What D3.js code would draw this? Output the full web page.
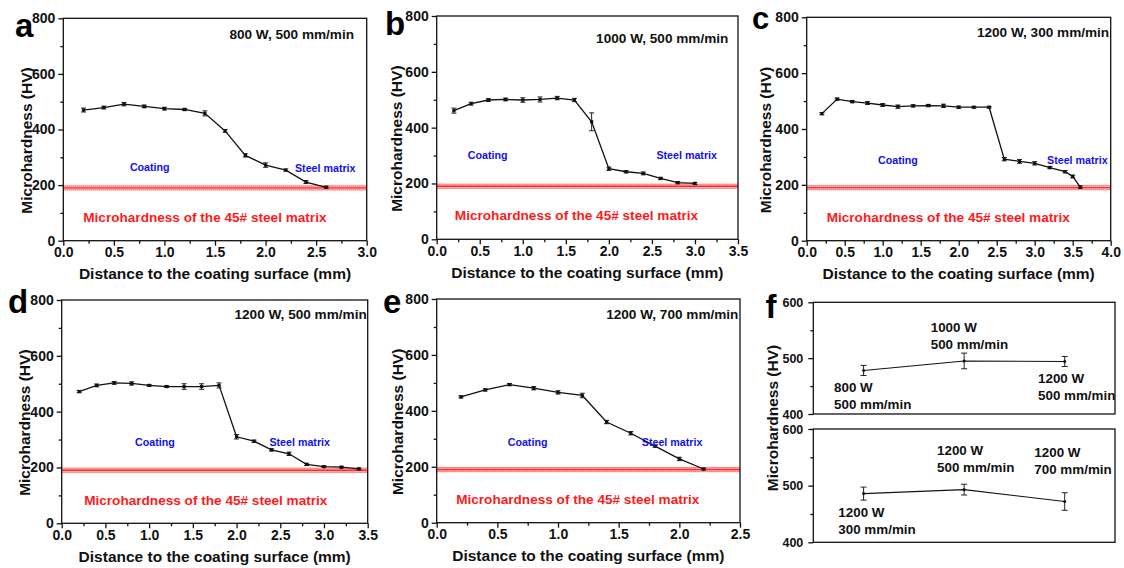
<!DOCTYPE html>
<html>
<head>
<meta charset="utf-8">
<script src="https://cdn.jsdelivr.net/npm/d3@7"></script>
<style>
  html, body { margin: 0; padding: 0; background: #fff; }
  svg { display: block; font-family: "Liberation Sans", Arial, Helvetica, sans-serif; font-weight: bold; }
</style>
</head>
<body>
<svg id="fig" width="1124" height="568"></svg>
<script>
// ---- Hardness depth profiles (distance in mm, hardness in HV, error = half bar) ----
const depthA = [0.2, 0.4, 0.6, 0.8, 1.0, 1.2, 1.4, 1.6, 1.8, 2.0, 2.2, 2.4, 2.6];
const hvA    = [470, 479, 491, 483, 475, 472, 458, 395, 307, 272, 254, 211, 192];
const errA   = [7, 5, 6, 5, 5, 4, 9, 5, 6, 8, 4, 5, 4];

const depthB = [0.2, 0.4, 0.6, 0.8, 1.0, 1.2, 1.4, 1.6, 1.8, 2.0, 2.2, 2.4, 2.6, 2.8, 3.0];
const hvB    = [461, 486, 499, 501, 499, 501, 506, 499, 421, 253, 242, 236, 218, 203, 200];
const errB   = [9, 5, 5, 5, 8, 9, 6, 6, 32, 6, 4, 5, 4, 4, 4];

const depthC = [0.2, 0.4, 0.6, 0.8, 1.0, 1.2, 1.4, 1.6, 1.8, 2.0, 2.2, 2.4, 2.6, 2.8, 3.0, 3.2, 3.4, 3.5, 3.6];
const hvC    = [455, 507, 498, 493, 486, 480, 483, 484, 483, 478, 478, 478, 292, 284, 277, 262, 247, 230, 192];
const errC   = [4, 4, 4, 5, 5, 6, 4, 4, 6, 4, 3, 3, 6, 7, 6, 4, 4, 5, 4];

const depthD = [0.2, 0.4, 0.6, 0.8, 1.0, 1.2, 1.4, 1.6, 1.8, 2.0, 2.2, 2.4, 2.6, 2.8, 3.0, 3.2, 3.4];
const hvD    = [472, 494, 503, 501, 494, 490, 490, 490, 494, 310, 294, 263, 249, 211, 203, 201, 195];
const errD   = [4, 5, 5, 6, 3, 3, 10, 10, 9, 8, 4, 4, 6, 4, 3, 3, 3];

const depthE = [0.2, 0.4, 0.6, 0.8, 1.0, 1.2, 1.4, 1.6, 1.8, 2.0, 2.2];
const hvE    = [450, 475, 494, 481, 466, 455, 360, 320, 274, 228, 192];
const errE   = [4, 4, 4, 6, 6, 8, 6, 6, 4, 6, 3];

// ---- Average coating hardness for each laser condition ----
const condTop    = ["800 W|500 mm/min", "1000 W|500 mm/min", "1200 W|500 mm/min"];
const avgTop     = [478, 495, 494];
const avgTopErr  = [9, 14, 9];
const condBot    = ["1200 W|300 mm/min", "1200 W|500 mm/min", "1200 W|700 mm/min"];
const avgBot     = [486, 493, 472];
const avgBotErr  = [11.5, 9.5, 15.5];

// ---- Axis ticks ----
const hvTicks    = [0, 200, 400, 600, 800];
const avgTicks   = [400, 500, 600];
const xTicks30   = [0.0, 0.5, 1.0, 1.5, 2.0, 2.5, 3.0];
const xTicks35   = [0.0, 0.5, 1.0, 1.5, 2.0, 2.5, 3.0, 3.5];
const xTicks40   = [0.0, 0.5, 1.0, 1.5, 2.0, 2.5, 3.0, 3.5, 4.0];
const xTicks25   = [0.0, 0.5, 1.0, 1.5, 2.0, 2.5];

// Hardness of the untreated 45# steel substrate (band centre and half width)
const matrixHV = 190;
const matrixHalf = 9;

const svg = d3.select("#fig");
const ink = "#111";
const blue = "#1010f0";
const red = "#ff1a1a";

const panels = [
  { letter: "a", cond: "800 W, 500 mm/min", d: depthA, v: hvA, e: errA, ticks: xTicks30,
    box: [63.3, 18.3, 366.7, 240.7], lp: [15, 36.7], coat: [0.855, 263], steel: [2.59, 261],
    note: [1.40, 84], condAt: [2.875, 742], ylDx: -37.3 },
  { letter: "b", cond: "1000 W, 500 mm/min", d: depthB, v: hvB, e: errB, ticks: xTicks35,
    box: [436.7, 16, 738, 239.3], lp: [385, 35], coat: [0.592, 301], steel: [2.904, 301],
    note: [1.624, 87], condAt: [3.388, 722], ylDx: -40.7 },
  { letter: "c", cond: "1200 W, 300 mm/min", d: depthC, v: hvC, e: errC, ticks: xTicks40,
    box: [806.7, 17.3, 1110.7, 240.7], lp: [752, 28.5], coat: [1.201, 290], steel: [3.561, 290],
    note: [1.863, 85], condAt: [3.98, 747], ylDx: -40.9, lsize: 31 },
  { letter: "d", cond: "1200 W, 500 mm/min", d: depthD, v: hvD, e: errD, ticks: xTicks35,
    box: [61.7, 300, 367.7, 523.3], lp: [8, 313.3], coat: [1.067, 289], steel: [2.722, 289],
    note: [1.648, 84], condAt: [3.489, 750], ylDx: -37.7 },
  { letter: "e", cond: "1200 W, 700 mm/min", d: depthE, v: hvE, e: errE, ticks: xTicks25,
    box: [436.7, 299, 740, 522.7], lp: [383, 313.3], coat: [0.749, 289], steel: [1.94, 287],
    note: [1.163, 84], condAt: [2.487, 746], ylDx: -39.2 }
];

function errorBars(g, xs, ys, d, v, e, cap) {
  const eb = g.append("g").attr("stroke", "#222").attr("stroke-width", 1);
  d.forEach((xv, i) => {
    const x = xs(xv), y0 = ys(v[i] - e[i]), y1 = ys(v[i] + e[i]);
    eb.append("line").attr("x1", x).attr("x2", x).attr("y1", y0).attr("y2", y1);
    eb.append("line").attr("x1", x - cap).attr("x2", x + cap).attr("y1", y0).attr("y2", y0);
    eb.append("line").attr("x1", x - cap).attr("x2", x + cap).attr("y1", y1).attr("y2", y1);
  });
}

panels.forEach(p => {
  const [x0, y0, x1, y1] = p.box;
  const xMax = p.ticks[p.ticks.length - 1];
  const xs = d3.scaleLinear().domain([0, xMax]).range([x0, x1]);
  const ys = d3.scaleLinear().domain([0, 800]).range([y1, y0]);
  const g = svg.append("g");

  // steel matrix reference band
  const band = g.append("g");
  band.append("rect")
    .attr("x", x0).attr("width", x1 - x0)
    .attr("y", ys(matrixHV + matrixHalf)).attr("height", ys(matrixHV - matrixHalf) - ys(matrixHV + matrixHalf))
    .attr("fill", "#ff9d9d").attr("opacity", 0.75);
  [matrixHV + matrixHalf - 1.5, matrixHV - matrixHalf + 1.5].forEach(h => {
    band.append("line").attr("x1", x0).attr("x2", x1).attr("y1", ys(h)).attr("y2", ys(h))
      .attr("stroke", "#ff4d4d").attr("stroke-width", 1).attr("stroke-dasharray", "1,1");
  });
  band.append("line").attr("x1", x0).attr("x2", x1).attr("y1", ys(matrixHV)).attr("y2", ys(matrixHV))
    .attr("stroke", "#ff2a2a").attr("stroke-width", 1.4);

  // profile line, error bars, markers
  g.append("path")
    .datum(p.d.map((x, i) => [x, p.v[i]]))
    .attr("fill", "none").attr("stroke", ink).attr("stroke-width", 1.3)
    .attr("d", d3.line().x(d => xs(d[0])).y(d => ys(d[1])));
  errorBars(g, xs, ys, p.d, p.v, p.e, 2.5);
  g.append("g").selectAll("rect").data(p.d).join("rect")
    .attr("x", (d) => xs(d) - 1.6).attr("y", (d, i) => ys(p.v[i]) - 1.6)
    .attr("width", 3.2).attr("height", 3.2).attr("fill", ink);

  // frame
  g.append("rect").attr("x", x0).attr("y", y0).attr("width", x1 - x0).attr("height", y1 - y0)
    .attr("fill", "none").attr("stroke", ink).attr("stroke-width", 1.3);

  // axes
  const xMinor = d3.range(0.25, xMax, 0.5);
  g.append("g").attr("transform", `translate(0,${y1})`)
    .call(d3.axisBottom(xs).tickValues(p.ticks).tickFormat(d3.format(".1f")).tickSize(5).tickSizeOuter(0).tickPadding(1.5))
    .call(a => a.select(".domain").remove())
    .call(a => a.selectAll("text").attr("font-size", 14).attr("font-family", null).attr("fill", ink))
    .call(a => a.selectAll("line").attr("stroke", ink).attr("stroke-width", 1.3));
  g.append("g").attr("transform", `translate(0,${y1})`)
    .call(d3.axisBottom(xs).tickValues(xMinor).tickFormat("").tickSize(3).tickSizeOuter(0))
    .call(a => a.select(".domain").remove())
    .call(a => a.selectAll("line").attr("stroke", ink).attr("stroke-width", 1.3));
  g.append("g").attr("transform", `translate(${x0},0)`)
    .call(d3.axisLeft(ys).tickValues(hvTicks).tickSize(5).tickSizeOuter(0).tickPadding(3))
    .call(a => a.select(".domain").remove())
    .call(a => a.selectAll("text").attr("font-size", 14).attr("font-family", null).attr("fill", ink))
    .call(a => a.selectAll("line").attr("stroke", ink).attr("stroke-width", 1.3));
  g.append("g").attr("transform", `translate(${x0},0)`)
    .call(d3.axisLeft(ys).tickValues([100, 300, 500, 700]).tickFormat("").tickSize(3).tickSizeOuter(0))
    .call(a => a.select(".domain").remove())
    .call(a => a.selectAll("line").attr("stroke", ink).attr("stroke-width", 1.3));

  // axis titles
  g.append("text").attr("x", (x0 + x1) / 2).attr("y", y1 + 38.5)
    .attr("text-anchor", "middle").attr("font-size", 15.5).attr("fill", ink)
    .text("Distance to the coating surface (mm)");
  g.append("text")
    .attr("transform", `translate(${x0 + p.ylDx},${(y0 + y1) / 2 + 11}) rotate(-90)`)
    .attr("text-anchor", "middle").attr("dy", "0.36em").attr("font-size", 15.5).attr("fill", ink)
    .text("Microhardness (HV)");

  // annotations
  g.append("text").attr("x", xs(p.condAt[0])).attr("y", ys(p.condAt[1])).attr("dy", "0.36em")
    .attr("text-anchor", "end").attr("font-size", 13.6).attr("fill", ink).text(p.cond);
  g.append("text").attr("x", xs(p.coat[0])).attr("y", ys(p.coat[1])).attr("dy", "0.36em")
    .attr("text-anchor", "middle").attr("font-size", 10.7).attr("fill", blue).text("Coating");
  g.append("text").attr("x", xs(p.steel[0])).attr("y", ys(p.steel[1])).attr("dy", "0.36em")
    .attr("text-anchor", "middle").attr("font-size", 10.7).attr("fill", blue).text("Steel matrix");
  g.append("text").attr("x", xs(p.note[0])).attr("y", ys(p.note[1])).attr("dy", "0.36em")
    .attr("text-anchor", "middle").attr("font-size", 13.6).attr("fill", red)
    .text("Microhardness of the 45# steel matrix");

  // panel letter
  g.append("text").attr("x", p.lp[0]).attr("y", p.lp[1])
    .attr("font-size", p.lsize || 33).attr("fill", "#000").text(p.letter);
});

// ---- Panel f: average hardness per condition ----
const fBoxes = [
  { v: avgTop, e: avgTopErr, cond: condTop, box: [813.3, 302.3, 1115, 414],
    labels: [[834, 392.3], [930.7, 331.7], [1038, 382.7]] },
  { v: avgBot, e: avgBotErr, cond: condBot, box: [813.3, 429, 1115, 542.3],
    labels: [[838.3, 517.3], [937, 455], [1034.3, 456.5]] }
];
fBoxes.forEach(b => {
  const [x0, y0, x1, y1] = b.box;
  const xs = d3.scaleLinear().domain([0.5, 3.5]).range([x0, x1]);
  const ys = d3.scaleLinear().domain([400, 600]).range([y1, y0]);
  const idx = [1, 2, 3];
  const g = svg.append("g");

  g.append("path").datum(idx.map((c, i) => [c, b.v[i]]))
    .attr("fill", "none").attr("stroke", ink).attr("stroke-width", 1.1)
    .attr("d", d3.line().x(d => xs(d[0])).y(d => ys(d[1])));
  errorBars(g, xs, ys, idx, b.v, b.e, 3);
  g.append("g").selectAll("circle").data(idx).join("circle")
    .attr("cx", d => xs(d)).attr("cy", (d, i) => ys(b.v[i])).attr("r", 1.5).attr("fill", ink);

  g.append("rect").attr("x", x0).attr("y", y0).attr("width", x1 - x0).attr("height", y1 - y0)
    .attr("fill", "none").attr("stroke", ink).attr("stroke-width", 1.3);

  g.append("g").attr("transform", `translate(${x0},0)`)
    .call(d3.axisLeft(ys).tickValues(avgTicks).tickSize(5).tickSizeOuter(0).tickPadding(5))
    .call(a => a.select(".domain").remove())
    .call(a => a.selectAll("text").attr("font-size", 12.5).attr("font-family", null).attr("fill", ink))
    .call(a => a.selectAll("line").attr("stroke", ink).attr("stroke-width", 1.3));
  g.append("g").attr("transform", `translate(${x0},0)`)
    .call(d3.axisLeft(ys).tickValues([450, 550]).tickFormat("").tickSize(3).tickSizeOuter(0))
    .call(a => a.select(".domain").remove())
    .call(a => a.selectAll("line").attr("stroke", ink).attr("stroke-width", 1.3));

  b.cond.forEach((c, i) => {
    const [lx, ly] = b.labels[i];
    const t = g.append("text").attr("x", lx).attr("y", ly).attr("font-size", 13.4).attr("fill", ink);
    c.split("|").forEach((line, k) => {
      t.append("tspan").attr("x", lx).attr("dy", k === 0 ? 0 : 17).text(line);
    });
  });
});
svg.append("text")
  .attr("transform", "translate(772.5,418) rotate(-90)")
  .attr("text-anchor", "middle").attr("dy", "0.36em").attr("font-size", 15.5).attr("fill", ink)
  .text("Microhardness (HV)");
svg.append("text").attr("x", 765.5).attr("y", 318)
  .attr("font-size", 33).attr("fill", "#000").text("f");
</script>
</body>
</html>
